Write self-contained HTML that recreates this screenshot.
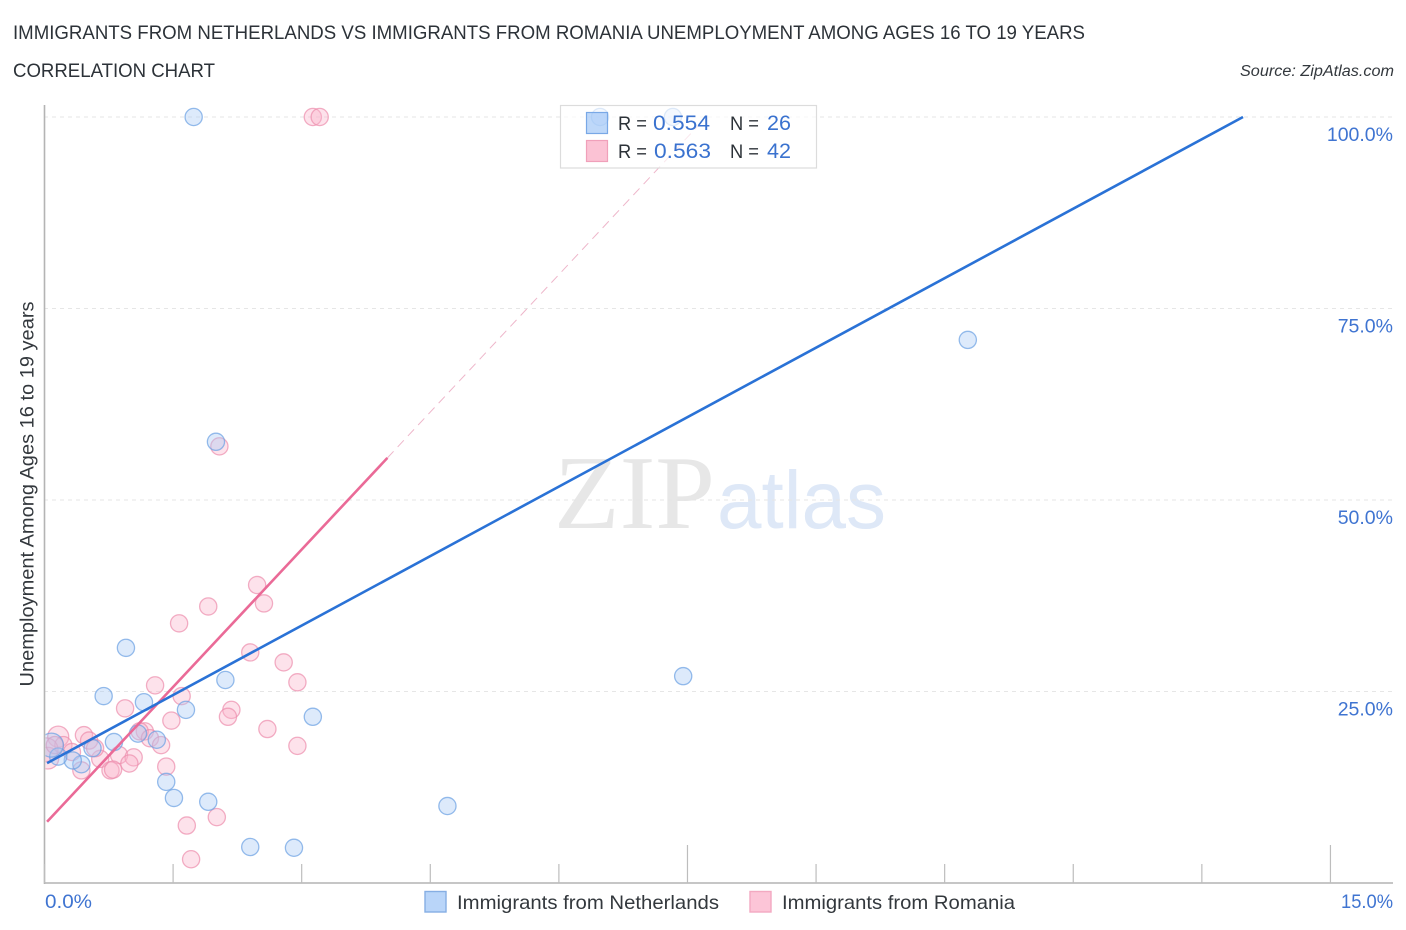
<!DOCTYPE html>
<html lang="en">
<head>
<meta charset="utf-8">
<title>Immigrants from Netherlands vs Immigrants from Romania Unemployment Correlation Chart</title>
<style>
html,body{margin:0;padding:0;background:#fff;}
svg{display:block;font-family:"Liberation Sans",sans-serif;}
</style>
</head>
<body>
<svg id="chart" xmlns="http://www.w3.org/2000/svg" width="1406" height="930" viewBox="0 0 1406 930">
  <defs>
    <clipPath id="plot-clip"><rect x="45.5" y="90" width="1355" height="800"/></clipPath>
  </defs>
  <rect x="0" y="0" width="1406" height="930" fill="#ffffff"/>
  <text x="13" y="39" font-size="19.5" fill="#2c3238" textLength="1072" lengthAdjust="spacingAndGlyphs">IMMIGRANTS FROM NETHERLANDS VS IMMIGRANTS FROM ROMANIA UNEMPLOYMENT AMONG AGES 16 TO 19 YEARS</text>
  <text x="13" y="77" font-size="19.5" fill="#2c3238" textLength="202" lengthAdjust="spacingAndGlyphs">CORRELATION CHART</text>
  <text x="1394" y="76" font-size="15.5" font-style="italic" fill="#33383d" text-anchor="end" textLength="154" lengthAdjust="spacingAndGlyphs">Source: ZipAtlas.com</text>

  <g>
    <text x="554" y="528" font-family="'Liberation Serif',serif" font-size="105" fill="#e7e7e7" textLength="161" lengthAdjust="spacingAndGlyphs">ZIP</text>
    <text x="717" y="528" font-size="82" fill="#deE8f7" textLength="169" lengthAdjust="spacingAndGlyphs">atlas</text>
  </g>

  <g id="grid"></g>
  <g clip-path="url(#plot-clip)">
    <g id="points-romania"></g>
    <g id="points-netherlands"></g>
    <g id="trends"></g>
  </g>
  <g id="axes"></g>

  <text transform="translate(33.5,494) rotate(-90)" font-size="19" fill="#33383d" text-anchor="middle" textLength="385" lengthAdjust="spacingAndGlyphs">Unemployment Among Ages 16 to 19 years</text>

  <g>
    <rect x="560.5" y="105.5" width="256" height="62.5" fill="#ffffff" fill-opacity="0.68" stroke="#dcdcdc" stroke-width="1.2"/>
    <rect x="586.5" y="112.5" width="21" height="21" fill="#93bef5" fill-opacity="0.6" stroke="#79a8e6" stroke-width="1.2"/>
    <rect x="586.5" y="140.5" width="21" height="21" fill="#fbc2d4" stroke="#f0a0ba" stroke-width="1.2"/>
    <text x="618" y="130" font-size="19" fill="#2c3238" textLength="29" lengthAdjust="spacingAndGlyphs">R =</text>
    <text x="653" y="130" font-size="21" fill="#3a72cf" textLength="57" lengthAdjust="spacingAndGlyphs">0.554</text>
    <text x="730" y="130" font-size="19" fill="#2c3238" textLength="29" lengthAdjust="spacingAndGlyphs">N =</text>
    <text x="767" y="130" font-size="21" fill="#3a72cf" textLength="24" lengthAdjust="spacingAndGlyphs">26</text>
    <text x="618" y="158" font-size="19" fill="#2c3238" textLength="29" lengthAdjust="spacingAndGlyphs">R =</text>
    <text x="654" y="158" font-size="21" fill="#3a72cf" textLength="57" lengthAdjust="spacingAndGlyphs">0.563</text>
    <text x="730" y="158" font-size="19" fill="#2c3238" textLength="29" lengthAdjust="spacingAndGlyphs">N =</text>
    <text x="767" y="158" font-size="21" fill="#3a72cf" textLength="24" lengthAdjust="spacingAndGlyphs">42</text>
  </g>

  <g>
    <g>
      <rect x="425" y="891.5" width="21" height="20.5" fill="#b9d5f9" stroke="#86aee3" stroke-width="1.4"/>
      <text x="457" y="909" font-size="19.5" fill="#33383d" textLength="262" lengthAdjust="spacingAndGlyphs">Immigrants from Netherlands</text>
    </g>
    <g>
      <rect x="750" y="891.5" width="21" height="20.5" fill="#fcc5d7" stroke="#f3a9c1" stroke-width="1.4"/>
      <text x="782" y="909" font-size="19.5" fill="#33383d" textLength="233" lengthAdjust="spacingAndGlyphs">Immigrants from Romania</text>
    </g>
  </g>
</svg>

<script>
// Chart values (percent)
const netherlandsX = [1.74, 6.48, 7.33, 10.77, 2.00, 7.45, 0.95, 0.69, 1.16, 1.65, 2.11, 3.13, 0.81, 1.09, 1.31, 0.56, 0.43, 0.33, 0.16, 0.08, 1.42, 1.51, 1.91, 2.40, 2.91, 4.70];
const netherlandsY = [100, 100, 100, 70.9, 57.6, 27.0, 30.7, 24.4, 23.6, 22.6, 26.5, 21.7, 18.4, 19.5, 18.7, 17.6, 15.5, 16.0, 16.5, 18.0, 13.2, 11.1, 10.6, 4.7, 4.6, 10.05];
const netherlandsWeight = [1, 1, 1, 1, 1, 1, 1, 1, 1, 1, 1, 1, 1, 1, 1, 1, 1, 1, 1, 1.95, 1, 1, 1, 1, 1, 1];

const romaniaX = [3.13, 3.21, 2.04, 2.48, 2.56, 1.91, 1.57, 2.40, 2.79, 2.95, 1.29, 1.60, 0.94, 2.18, 2.14, 1.48, 2.60, 2.95, 1.17, 1.11, 1.23, 1.36, 0.46, 0.52, 0.16, 0.22, 0.32, 0.87, 1.04, 0.99, 0.65, 0.77, 0.80, 0.43, 1.42, 1.66, 2.01, 1.71, 0.02, 0.04, 0.59, 0.12];
const romaniaY = [100, 100, 57.0, 38.9, 36.5, 36.1, 33.9, 30.1, 28.8, 26.2, 25.8, 24.4, 22.8, 22.6, 21.7, 21.2, 20.1, 17.9, 19.8, 19.8, 18.9, 18.0, 19.3, 18.6, 19.1, 18.0, 17.1, 16.7, 16.4, 15.6, 16.2, 14.7, 14.8, 14.7, 15.2, 7.5, 8.6, 3.1, 17.4, 16.3, 17.6, 18.0];
const romaniaWeight = [1, 1, 1, 1, 1, 1, 1, 1, 1, 1, 1, 1, 1, 1, 1, 1, 1, 1, 1, 1, 1, 1, 1, 1, 1.5, 1, 1, 1, 1, 1, 1, 1, 1, 1, 1, 1, 1, 1, 1.9, 1.6, 1, 1];

// Trend line endpoints (x percent, y percent)
const netherlandsTrendX = [0.03, 13.98];
const netherlandsTrendY = [15.65, 100];
const romaniaTrendX = [0.03, 4.0];
const romaniaTrendY = [8.0, 55.5];
const romaniaTrendExtX = [4.0, 7.72];
const romaniaTrendExtY = [55.5, 100];

// Axis ticks
const yTickValues = [25, 50, 75, 100];
const yTickLabels = ["25.0%", "50.0%", "75.0%", "100.0%"];
const xTickValues = [0, 1.5, 3, 4.5, 6, 7.5, 9, 10.5, 12, 13.5, 15];
const xTickMajor = [false, false, false, false, false, true, false, false, false, false, true];
const xEndValues = [0, 15];
const xEndLabels = ["0.0%", "15.0%"];

// Axis functions
function xScale(v) { return 44.5 + v * 85.73; }
function yScale(v) { return 883 - v * 7.66; }
function rScale(w) { return 8.6 * Math.sqrt(w); }

const NS = 'http://www.w3.org/2000/svg';
function make(tag, parent, attrs) {
  const el = document.createElementNS(NS, tag);
  for (const k in attrs) el.setAttribute(k, attrs[k]);
  parent.appendChild(el);
  return el;
}

const grid = document.getElementById('grid');
yTickValues.forEach(function (v, i) {
  const line = make('line', grid, {
    x1: 44, x2: 1393, y1: yScale(v), y2: yScale(v),
    stroke: '#e6e6e6', 'stroke-width': 1, 'stroke-dasharray': '4 4'
  });
  
  
});

function drawPoints(groupId, xs, ys, ws, fill, stroke, label) {
  const g = document.getElementById(groupId);
  xs.forEach(function (x, i) {
    const c = make('circle', g, {
      cx: xScale(x), cy: yScale(ys[i]), r: rScale(ws[i]),
      fill: fill, 'fill-opacity': 0.38, stroke: stroke, 'stroke-opacity': 0.7, 'stroke-width': 1.3
    });
    
    
  });
}
drawPoints('points-romania', romaniaX, romaniaY, romaniaWeight, '#f9b4ca', '#ec8dac', 'romania');
drawPoints('points-netherlands', netherlandsX, netherlandsY, netherlandsWeight, '#a5c8f5', '#6a9fe2', 'netherlands');

const trends = document.getElementById('trends');
const extLine = make('line', trends, {
  x1: xScale(romaniaTrendExtX[0]), y1: yScale(romaniaTrendExtY[0]),
  x2: xScale(romaniaTrendExtX[1]), y2: yScale(romaniaTrendExtY[1]),
  stroke: '#eeb6ca', 'stroke-width': 1, 'stroke-dasharray': '9 6'
});


const romaniaLine = make('line', trends, {
  x1: xScale(romaniaTrendX[0]), y1: yScale(romaniaTrendY[0]),
  x2: xScale(romaniaTrendX[1]), y2: yScale(romaniaTrendY[1]),
  stroke: '#ea6a97', 'stroke-width': 2.6
});


const netherlandsLine = make('line', trends, {
  x1: xScale(netherlandsTrendX[0]), y1: yScale(netherlandsTrendY[0]),
  x2: xScale(netherlandsTrendX[1]), y2: yScale(netherlandsTrendY[1]),
  stroke: '#2a72d6', 'stroke-width': 2.6
});



const axes = document.getElementById('axes');
const yAxis = make('line', axes, { x1: 44.5, x2: 44.5, y1: 105, y2: 884, stroke: '#b4b4b4', 'stroke-width': 1.6 });


const xAxis = make('line', axes, { x1: 44, x2: 1393, y1: 883, y2: 883, stroke: '#b4b4b4', 'stroke-width': 1.6 });



xTickValues.forEach(function (v, i) {
  const t = make('line', axes, {
    x1: xScale(v), x2: xScale(v), y1: 883, y2: xTickMajor[i] ? 845 : 864,
    stroke: '#bdbdbd', 'stroke-width': 1.2
  });
  
  
});

yTickValues.forEach(function (v, i) {
  const t = make('text', axes, {
    x: 1393, y: yScale(v) + 24, 'font-size': 19.5, fill: '#3f74d1', 'text-anchor': 'end'
  });
  t.textContent = yTickLabels[i];
  
  
});

xEndValues.forEach(function (v, i) {
  const t = make('text', axes, {
    x: i === 0 ? xScale(v) + 0.5 : 1393, y: 908, 'font-size': 19.5, fill: '#3f74d1',
    'text-anchor': i === 0 ? 'start' : 'end',
    textLength: i === 0 ? 47 : 52, lengthAdjust: 'spacingAndGlyphs'
  });
  t.textContent = xEndLabels[i];
  
  
});
</script>
</body>
</html>
